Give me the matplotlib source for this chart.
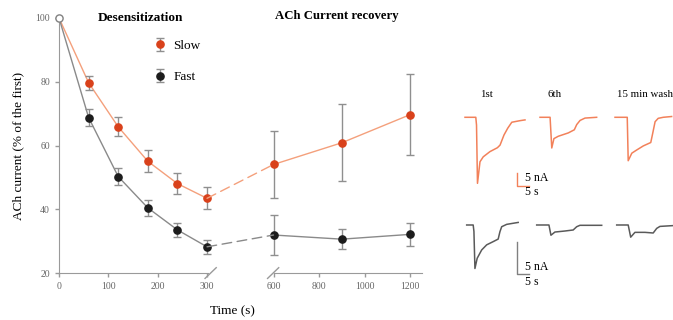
import numpy as np
import matplotlib
matplotlib.use("Agg")
import matplotlib.pyplot as plt
from matplotlib.patches import ConnectionPatch

plt.rcParams['font.family'] = ['Liberation Serif', 'DejaVu Serif']

# desensitization / recovery data (% of first response)
t_des = [0, 60, 120, 180, 240, 300]
t_rec = [600, 900, 1200]
slow_des = [100, 79.7, 65.9, 55.1, 48.1, 43.5]
slow_des_err = [0, 2.2, 3.0, 3.4, 3.3, 3.4]
slow_rec = [54.1, 60.9, 69.7]
slow_rec_err = [10.6, 12.0, 12.6]
fast_des = [100, 68.8, 50.3, 40.5, 33.6, 28.3]
fast_des_err = [0, 2.6, 2.7, 2.6, 2.1, 2.2]
fast_rec = [32.0, 30.7, 32.2]
fast_rec_err = [6.3, 3.2, 3.6]

# example current traces (time s, current nA relative to baseline)
slow_traces = [
    ([0, 4.5, 4.8, 5.2, 6.25, 7.6, 10.4, 13.5, 14.6, 16.25, 17.8, 19.5, 22.9, 25.0],
     [0, 0, -3, -25.4, -17.1, -15.2, -13.2, -11.7, -10.7, -6.8, -4.2, -1.9, -1.3, -1.0]),
    ([0, 4.2, 4.9, 5.8, 7.6, 11.8, 14.3, 15.3, 16.7, 18.75, 23.6],
     [0, 0, -11.8, -8.2, -7.3, -6.0, -4.8, -2.8, -1.2, -0.3, 0]),
    ([0, 5.1, 5.5, 7.0, 9.0, 11.8, 14.9, 15.7, 16.7, 18.0, 20.1, 23.6],
     [0, 0, -16.7, -13.8, -12.6, -11.0, -9.7, -6.2, -1.7, -0.4, 0, 0.3]),
]
fast_traces = [
    ([0, 2.6, 2.9, 3.3, 4.2, 6.0, 8.0, 10.6, 12.6, 13.3, 14.0, 16.0, 20.6],
     [0, 0, -1.0, -6.8, -5.2, -3.9, -3.1, -2.6, -2.2, -1.05, -0.27, 0.1, 0.4]),
    ([0, 4.9, 5.7, 7.3, 11.3, 14.6, 16.0, 17.3, 26.0],
     [0, 0, -1.6, -1.1, -0.94, -0.78, -0.27, -0.05, -0.05]),
    ([0, 4.6, 5.6, 7.3, 11.3, 14.6, 16.0, 17.3, 22.4],
     [0, 0, -1.9, -1.15, -1.15, -1.25, -0.53, -0.22, -0.1]),
]
trace_labels = ['1st', '6th', '15 min wash']
slow_offsets = [0, 31.25, 62.5]
fast_offsets = [0, 28, 60]

SLOW_M = '#d9411b'
SLOW_L = '#f4a07c'
FAST_M = '#1c1c1c'
FAST_L = '#8a8a8a'
ERR = '#8f8f8f'
AX = '#9a9a9a'
TICK = '#666666'

fig = plt.figure(figsize=(6.73, 3.2), dpi=100)
ax1 = fig.add_axes([0.0877, 0.1459, 0.2214, 0.7979])
ax2 = fig.add_axes([0.4064, 0.1459, 0.2204, 0.7979])

ekw = dict(ecolor=ERR, elinewidth=1, capsize=3.2, capthick=1, markersize=5.2,
           clip_on=False, zorder=3)

# desensitization
ax1.plot(t_des, slow_des, color=SLOW_L, lw=1, zorder=2)
ax1.plot(t_des, fast_des, color=FAST_L, lw=1, zorder=2)
h_slow = ax1.errorbar(t_des[1:], slow_des[1:], yerr=slow_des_err[1:], fmt='o',
                      color=SLOW_M, mec=SLOW_M, **ekw)
h_fast = ax1.errorbar(t_des[1:], fast_des[1:], yerr=fast_des_err[1:], fmt='o',
                      color=FAST_M, mec=FAST_M, **ekw)
ax1.plot(t_des[0], slow_des[0], 'o', mfc='white', mec='#808080', ms=5.2,
         clip_on=False, zorder=4)

# recovery
ax2.plot(t_rec, slow_rec, color=SLOW_L, lw=1, zorder=2)
ax2.plot(t_rec, fast_rec, color=FAST_L, lw=1, zorder=2)
ax2.errorbar(t_rec, slow_rec, yerr=slow_rec_err, fmt='o', color=SLOW_M,
             mec=SLOW_M, **ekw)
ax2.errorbar(t_rec, fast_rec, yerr=fast_rec_err, fmt='o', color=FAST_M,
             mec=FAST_M, **ekw)

# dashed bridges across the axis break
for ya, yb, col in [(slow_des[-1], slow_rec[0], SLOW_L), (fast_des[-1], fast_rec[0], FAST_L)]:
    con = ConnectionPatch(xyA=(t_des[-1], ya), coordsA=ax1.transData,
                          xyB=(t_rec[0], yb), coordsB=ax2.transData,
                          color=col, lw=1, linestyle=(0, (7, 4)), zorder=1)
    fig.add_artist(con)

ax1.set_xlim(0, 302)
ax2.set_xlim(600, 1252)
for ax in (ax1, ax2):
    ax.set_ylim(20, 100)
    ax.spines['top'].set_visible(False)
    ax.spines['right'].set_visible(False)
    ax.spines['bottom'].set_color(AX)
    ax.spines['left'].set_color(AX)
    ax.tick_params(colors=AX, labelcolor=TICK, labelsize=7, length=3, width=1)

ax1.set_xticks([0, 100, 200, 300])
ax1.set_yticks([20, 40, 60, 80, 100])
ax2.set_xticks([600, 800, 1000, 1200])
ax2.spines['left'].set_visible(False)
ax2.set_yticks([])

# break marks
ax1.plot([0.98, 1.055], [-0.02, 0.022], transform=ax1.transAxes, color=AX,
         lw=1, clip_on=False)
ax2.plot([-0.04, 0.035], [-0.02, 0.022], transform=ax2.transAxes, color=AX,
         lw=1, clip_on=False)

ax1.set_ylabel('ACh current (% of the first)', fontsize=9.5, labelpad=8)
fig.text(0.345, 0.026, 'Time (s)', fontsize=9.5, ha='center', va='center')
fig.text(0.208, 0.944, 'Desensitization', fontsize=9.5, fontweight='bold',
         ha='center', va='center')
fig.text(0.501, 0.95, 'ACh Current recovery', fontsize=9.2, fontweight='bold',
         ha='center', va='center')

ax1.legend([h_slow, h_fast], ['Slow', 'Fast'], loc='upper left',
           bbox_to_anchor=(0.6, 0.935), frameon=False, fontsize=9.5,
           handlelength=0.9, handletextpad=0.6, labelspacing=1.45,
           borderaxespad=0)

# traces, slow (top) and fast (bottom)
axt = fig.add_axes([0.6838, 0.3897, 0.3174, 0.27625])
axt.set_xlim(-2, 87)
axt.set_ylim(-30, 4)
axt.axis('off')
for (tx, ty), off in zip(slow_traces, slow_offsets):
    axt.plot(np.array(tx) + off, ty, color='#f2815a', lw=1.1)
axt.plot([21.5, 21.5, 26.5], [-21.3, -26.3, -26.3], color='#f2815a', lw=1)
axt.text(25, -23.2, '5 nA', fontsize=8.5, va='center')
axt.text(25, -28.9, '5 s', fontsize=8.5, va='center')
label_x = [9.0, 37.5, 63.5]
for lab, lx in zip(trace_labels, label_x):
    axt.text(lx, 8.6, lab, fontsize=7.8, ha='left' if lx > 60 else 'center',
             va='center', clip_on=False)

axb = fig.add_axes([0.6860, 0.1369, 0.3195, 0.2])
axb.set_xlim(-2, 84)
axb.set_ylim(-8, 2)
axb.axis('off')
for (tx, ty), off in zip(fast_traces, fast_offsets):
    axb.plot(np.array(tx) + off, ty, color='#5a5a5a', lw=1.1)
axb.plot([20, 20, 25], [-2.6, -7.66, -7.66], color='#808080', lw=1)
axb.text(23.3, -6.5, '5 nA', fontsize=8.5, va='center')
axb.text(23.3, -8.85, '5 s', fontsize=8.5, va='center', clip_on=False)

fig.savefig('out.png', dpi=100)
